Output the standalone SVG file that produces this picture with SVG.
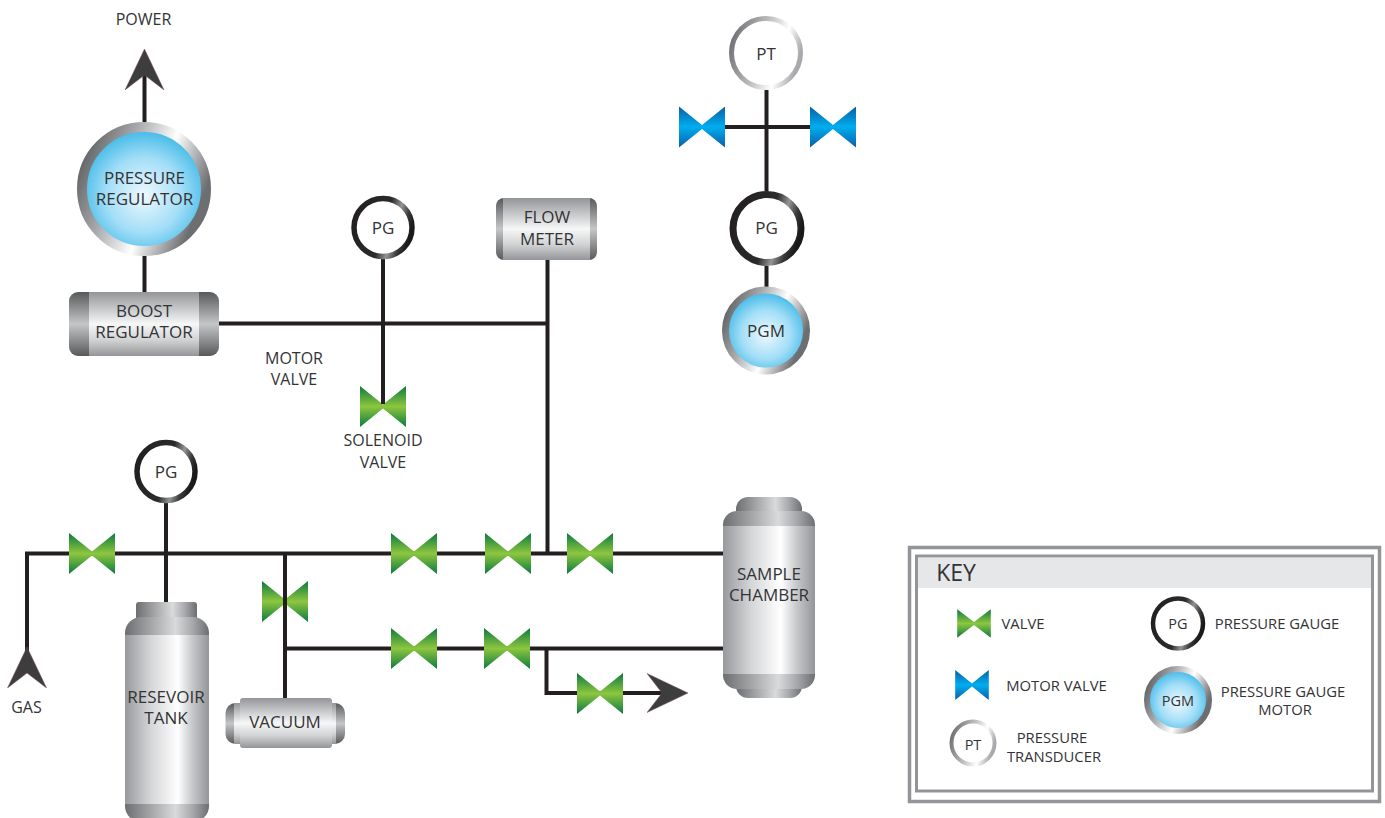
<svg xmlns="http://www.w3.org/2000/svg" width="1385" height="818" viewBox="0 0 1385 818">
<style>
text{font-family:"Open Sans","Noto Sans","Liberation Sans",sans-serif;fill:#333336;text-anchor:middle}
.t16{font-size:17px}.t15{font-size:16px}.t17{font-size:17px}.t14{font-size:14.800px}.t13{font-size:14.500px}
.st{fill:none;stroke:#231f20;stroke-width:4}
.bow{fill:url(#green)}.bowm{fill:url(#blue)}
.box{fill:none;stroke:#939598}
</style>
<defs>
<linearGradient id="green" x1="0" y1="0" x2="0" y2="1"><stop offset="0" stop-color="#0b7b3e"/><stop offset=".5" stop-color="#8dc63f"/><stop offset="1" stop-color="#0b7b3e"/></linearGradient>
<linearGradient id="blue" x1="0" y1="0" x2="0" y2="1"><stop offset="0" stop-color="#0a5ea8"/><stop offset=".5" stop-color="#00aeef"/><stop offset="1" stop-color="#0a5ea8"/></linearGradient>
<linearGradient id="hBody" x1="0" y1="0" x2="0" y2="1"><stop offset="0" stop-color="#939598"/><stop offset=".5" stop-color="#f6f7f7"/><stop offset=".75" stop-color="#d1d3d4"/><stop offset="1" stop-color="#939598"/></linearGradient>
<linearGradient id="hCap" x1="0" y1="0" x2="0" y2="1"><stop offset="0" stop-color="#58595b"/><stop offset=".5" stop-color="#c4c6c8"/><stop offset="1" stop-color="#58595b"/></linearGradient>
<linearGradient id="vBody" x1="0" y1="0" x2="1" y2="0"><stop offset="0" stop-color="#97999c"/><stop offset=".3" stop-color="#d4d5d7"/><stop offset=".63" stop-color="#ffffff"/><stop offset=".8" stop-color="#c6c8ca"/><stop offset="1" stop-color="#939598"/></linearGradient>
<linearGradient id="vCap" x1="0" y1="0" x2="1" y2="0"><stop offset="0" stop-color="#6d6e71"/><stop offset=".6" stop-color="#d9dadb"/><stop offset=".8" stop-color="#a7a9ac"/><stop offset="1" stop-color="#6d6e71"/></linearGradient>
<linearGradient id="ringS" x1="0" y1=".1" x2="1" y2=".5"><stop offset="0" stop-color="#58595b"/><stop offset=".35" stop-color="#a7a9ac"/><stop offset=".65" stop-color="#ffffff"/><stop offset="1" stop-color="#6d6e71"/></linearGradient>
<linearGradient id="ringT" x1="0" y1=".2" x2="1" y2=".5"><stop offset="0" stop-color="#6d6e71"/><stop offset=".45" stop-color="#bcbec0"/><stop offset=".75" stop-color="#ffffff"/><stop offset="1" stop-color="#a7a9ac"/></linearGradient>
<linearGradient id="ringG" x1="0" y1=".2" x2="1" y2=".5"><stop offset="0" stop-color="#231f20"/><stop offset=".55" stop-color="#2b2b2b"/><stop offset=".73" stop-color="#939598"/><stop offset=".88" stop-color="#3a3a3a"/><stop offset="1" stop-color="#1a1a1a"/></linearGradient>
<radialGradient id="glow" cx=".5" cy=".55" r=".55"><stop offset="0" stop-color="#eef9fe"/><stop offset=".55" stop-color="#a3def7"/><stop offset="1" stop-color="#38b6e6"/></radialGradient>
<marker id="arrow" markerUnits="userSpaceOnUse" markerWidth="42" markerHeight="40" viewBox="0 0 42 40" refX="15" refY="20" orient="auto"><path d="M0 .5L41 20L0 39.500L15 20Z" fill="#3d3d3d" stroke="#7a5555" stroke-width=".5"/></marker>
<path id="bowtie" d="M-23-20.500L0-2L23-20.500V20.500L0 2L-23 20.500Z"/>
</defs>

<g id="valve-vacuum"><use href="#bowtie" class="bow" x="285" y="601.500"/></g>
<g id="valve-solenoid"><use href="#bowtie" class="bow" x="383" y="406.500"/></g>

<g id="connectors">
<path class="st" d="M144.500 122V75" marker-end="url(#arrow)"/>
<path class="st" d="M144.500 256V292"/>
<path class="st" d="M219 323.500H547.500"/>
<path class="st" d="M383 259V404"/>
<path class="st" d="M547.500 260V553.500"/>
<path class="st" d="M27 673V553.500H723" marker-start="url(#arrow)"/>
<path class="st" d="M166 503V602"/>
<path class="st" d="M285 553.500V698"/>
<path class="st" d="M285 648.500H723"/>
<path class="st" d="M546.500 648.500V693H662" marker-end="url(#arrow)"/>
<path class="st" d="M766.500 90V191M766.500 266V288"/>
<path class="st" d="M724 127H811"/>
</g>

<g id="valve-1"><use href="#bowtie" class="bow" x="92" y="553.500"/></g>
<g id="valve-2"><use href="#bowtie" class="bow" x="414" y="553.500"/></g>
<g id="valve-3"><use href="#bowtie" class="bow" x="508" y="553.500"/></g>
<g id="valve-4"><use href="#bowtie" class="bow" x="590" y="553.500"/></g>
<g id="valve-5"><use href="#bowtie" class="bow" x="414" y="648.500"/></g>
<g id="valve-6"><use href="#bowtie" class="bow" x="507" y="648.500"/></g>
<g id="valve-7"><use href="#bowtie" class="bow" x="600" y="693.500"/></g>
<g id="motor-valve-1"><use href="#bowtie" class="bowm" x="702" y="127"/></g>
<g id="motor-valve-2"><use href="#bowtie" class="bowm" x="833" y="127"/></g>

<g id="label-power"><text class="t15" x="143.500" y="25">POWER</text></g>
<g id="label-gas"><text class="t15" x="26.500" y="713">GAS</text></g>
<g id="label-motor-valve"><text class="t15" x="294" y="364">MOTOR</text><text class="t15" x="294" y="385">VALVE</text></g>
<g id="label-solenoid"><text class="t15" x="383" y="445.500">SOLENOID</text><text class="t15" x="383" y="467.500">VALVE</text></g>

<g id="pressure-regulator">
<circle cx="144" cy="189" r="62" fill="url(#glow)" stroke="url(#ringS)" stroke-width="10"/>
<text class="t16" x="144.500" y="184">PRESSURE</text><text class="t16" x="144.500" y="205">REGULATOR</text>
</g>
<g id="boost-regulator">
<rect x="69" y="292" width="150" height="64" rx="9" fill="url(#hCap)"/>
<rect x="89" y="292" width="110" height="64" fill="url(#hBody)"/>
<text class="t16" x="144" y="317">BOOST</text><text class="t16" x="144" y="338">REGULATOR</text>
</g>
<g id="pg-1"><circle cx="383" cy="227.500" r="29" fill="#fff" stroke="url(#ringG)" stroke-width="5.500"/><text class="t17" x="383" y="233.500">PG</text></g>
<g id="flow-meter">
<rect x="496" y="198" width="101" height="62" rx="8" fill="url(#hCap)"/>
<rect x="503" y="198" width="87" height="62" fill="url(#hBody)"/>
<text class="t16" x="547" y="222.500">FLOW</text><text class="t16" x="547" y="244.500">METER</text>
</g>
<g id="pg-2"><circle cx="166" cy="471.500" r="29" fill="#fff" stroke="url(#ringG)" stroke-width="5.500"/><text class="t17" x="166" y="477.500">PG</text></g>
<g id="reservoir-tank">
<rect x="136" y="602" width="61" height="24" rx="3" fill="url(#vCap)"/>
<rect x="125" y="617" width="84" height="205" rx="16" fill="url(#vCap)"/>
<rect x="125" y="635" width="84" height="169" fill="url(#vBody)"/>
<text class="t16" x="166" y="703">RESEVOIR</text><text class="t16" x="166" y="724">TANK</text>
</g>
<g id="vacuum">
<rect x="225.500" y="703" width="119.500" height="41" rx="10" fill="url(#hCap)"/>
<rect x="234" y="703" width="102" height="41" fill="url(#hBody)"/>
<rect x="240" y="698" width="92" height="50" rx="3" fill="url(#hBody)"/>
<text class="t16" x="285" y="728">VACUUM</text>
</g>
<g id="sample-chamber">
<rect x="736" y="497" width="66" height="30" rx="12" fill="url(#vCap)"/>
<rect x="736" y="668" width="66" height="30" rx="12" fill="url(#vCap)"/>
<rect x="723" y="511" width="92" height="178" rx="14" fill="url(#vCap)"/>
<rect x="723" y="526" width="92" height="148" fill="url(#vBody)"/>
<text class="t16" x="769" y="580">SAMPLE</text><text class="t16" x="769" y="601">CHAMBER</text>
</g>
<g id="pt-top"><circle cx="766" cy="53" r="34.500" fill="#fff" stroke="url(#ringT)" stroke-width="5"/><text class="t17" x="766" y="60">PT</text></g>
<g id="pg-top"><circle cx="767" cy="228.500" r="34" fill="#fff" stroke="url(#ringG)" stroke-width="7"/><text class="t17" x="766.500" y="233.500">PG</text></g>
<g id="pgm-top"><circle cx="766" cy="330.500" r="40.500" fill="url(#glow)" stroke="url(#ringS)" stroke-width="7"/><text class="t16" x="766" y="337">PGM</text></g>

<g id="key">
<rect class="box" x="909.500" y="547.500" width="470" height="254" stroke-width="3.500"/>
<rect x="917" y="558" width="455" height="30" fill="#e6e7e8"/>
<rect class="box" x="916.500" y="556" width="456" height="235" stroke-width="3"/>
<text x="956" y="581" font-size="23">KEY</text>
<g id="key-valve"><use href="#bowtie" class="bow" transform="translate(974 623.500) scale(.73 .69)"/><text class="t14" x="1023" y="629">VALVE</text></g>
<g id="key-motor-valve"><use href="#bowtie" class="bowm" transform="translate(972 685) scale(.73 .73)"/><text class="t14" x="1056.500" y="691">MOTOR VALVE</text></g>
<g id="key-pt"><circle cx="973" cy="743" r="21.500" fill="#fff" stroke="url(#ringT)" stroke-width="4"/><text class="t13" x="973" y="750">PT</text><text class="t14" x="1052" y="743">PRESSURE</text><text class="t14" x="1054" y="762">TRANSDUCER</text></g>
<g id="key-pg"><circle cx="1178" cy="623.500" r="25" fill="#fff" stroke="url(#ringG)" stroke-width="4.500"/><text class="t13" x="1178" y="629">PG</text><text class="t14" x="1277" y="629">PRESSURE GAUGE</text></g>
<g id="key-pgm"><circle cx="1178" cy="700" r="31" fill="url(#glow)" stroke="url(#ringS)" stroke-width="6"/><text class="t13" x="1178" y="706">PGM</text><text class="t14" x="1283" y="697">PRESSURE GAUGE</text><text class="t14" x="1285" y="715">MOTOR</text></g>
</g>
</svg>
